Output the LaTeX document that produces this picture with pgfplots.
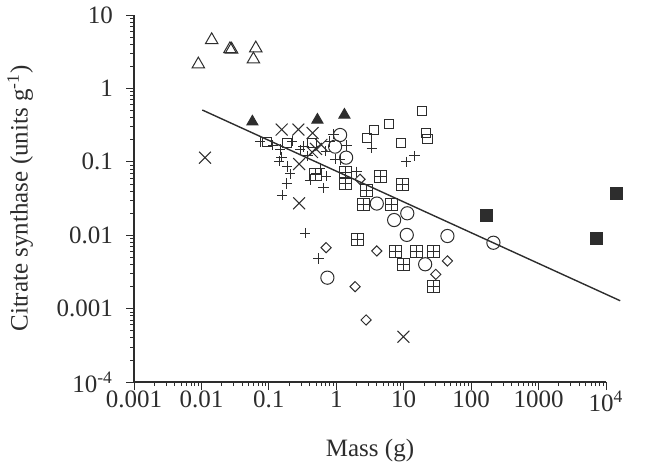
\documentclass[border=0pt]{standalone}
\usepackage{fontspec}
\setmainfont{Liberation Serif}
\usepackage{pgfplots}
\pgfplotsset{compat=1.18}
\definecolor{ink}{RGB}{45,45,45}

% square with a cross inside
\pgfdeclareplotmark{boxplus}{%
  \pgfpathrectangle{\pgfqpoint{-\pgfplotmarksize}{-\pgfplotmarksize}}{\pgfqpoint{2\pgfplotmarksize}{2\pgfplotmarksize}}%
  \pgfpathmoveto{\pgfqpoint{0pt}{-\pgfplotmarksize}}\pgfpathlineto{\pgfqpoint{0pt}{\pgfplotmarksize}}%
  \pgfpathmoveto{\pgfqpoint{-\pgfplotmarksize}{0pt}}\pgfpathlineto{\pgfqpoint{\pgfplotmarksize}{0pt}}%
  \pgfusepathqstroke}

\begin{document}
\begin{tikzpicture}
\path[use as bounding box] (-67pt,-43pt) rectangle (256.5pt,191pt);
\begin{axis}[
    at={(0,0)}, anchor=south west,
    scale only axis, width=236pt, height=183.5pt,
    xmode=log, ymode=log,
    xmin=0.001, xmax=10000, ymin=0.0001, ymax=10,
    axis x line*=bottom, axis y line*=left,
    axis line style={-, ink, line width=0.6pt},
    clip=false,
    xtick={0.001,0.01,0.1,1,10,100,1000,10000},
    xticklabels={0.001,0.01,0.1,1,10,100,1000,10\textsuperscript{4}},
    ytick={0.0001,0.001,0.01,0.1,1,10},
    yticklabels={10\textsuperscript{-4},0.001,0.01,0.1,1,10},
    tick align=outside,
    major tick length=4pt, minor tick length=2pt,
    tick style={ink, line width=0.4pt},
    ticklabel style={font=\fontsize{12.5}{14}\selectfont, text=ink},
    xticklabel style={yshift=3pt},
    yticklabel style={xshift=-3pt},
    label style={font=\fontsize{12.5}{14}\selectfont, text=ink},
    xlabel={Mass (g)},
    xlabel style={at={(axis description cs:0.5,-0.204)}, anchor=base},
    ylabel={Citrate synthase (units g\textsuperscript{-1})},
    ylabel style={at={(axis description cs:-0.199,0.5)}, anchor=south},
    every axis plot/.append style={line width=0.5pt, ink},
]

% regression line
\addplot[no marks, line width=0.7pt] coordinates {(0.0103,0.508) (16250,0.00128)};

% open triangles
\addplot[only marks, mark=triangle, mark size=3.6pt] coordinates {
(0.0142,4.56) (0.009,2.13) (0.0265,3.44) (0.028,3.40) (0.064,3.52) (0.059,2.49)};

% filled triangles
\addplot[only marks, mark=triangle*, mark size=3.2pt, fill=ink] coordinates {
(0.057,0.351) (0.525,0.372) (1.32,0.435)};

% crosses
\addplot[only marks, mark=x, mark size=4.2pt] coordinates {
(0.0113,0.114) (0.155,0.275) (0.274,0.275) (0.445,0.247) (0.281,0.0933)
(0.281,0.0272) (9.9,0.000414) (0.437,0.136) (0.5,0.15) (0.6,0.17)};

% plus
\addplot[only marks, mark=+, mark size=2.6pt] coordinates {
(0.074,0.188) (0.155,0.116) (0.142,0.1025) (0.186,0.0867) (0.207,0.0683)
(0.185,0.0506) (0.157,0.0353) (0.344,0.0107) (0.542,0.00484) (0.906,0.239)
(0.96,0.109) (1.43,0.167) (3.37,0.154) (10.9,0.100) (14.4,0.120)
(0.644,0.044) (2.01,0.0733) (0.325,0.161) (0.575,0.0815) (1.14,0.108)
(0.147,0.148) (0.221,0.192) (0.408,0.0565) (0.706,0.064) (0.115,0.169)
(0.29,0.145) (0.38,0.12) (0.7,0.14) (0.5,0.07) (0.8,0.19)};

% open squares
\addplot[only marks, mark=square, mark size=2.3pt] coordinates {
(0.093,0.186) (0.185,0.180) (2.84,0.209) (3.64,0.271) (6.07,0.327)
(18.6,0.497) (9.06,0.179) (21.5,0.247) (22.5,0.203) (0.434,0.179)};

% squares with cross
\addplot[only marks, mark=boxplus, mark size=3pt] coordinates {
(1.35,0.0726) (1.35,0.0499) (4.47,0.0627) (9.7,0.0491) (2.52,0.0258)
(6.65,0.0266) (2.06,0.0088) (7.59,0.006) (15.3,0.006) (27.6,0.006)
(10.0,0.00396) (27.7,0.002) (2.77,0.0413) (0.484,0.068)};

% open circles
\addplot[only marks, mark=o, mark size=3.3pt] coordinates {
(1.14,0.232) (0.96,0.161) (1.40,0.114) (3.99,0.027) (11.3,0.0199)
(7.21,0.0161) (11.1,0.0101) (44.5,0.00975) (20.8,0.00402) (0.738,0.00264)
(214,0.0079)};

% diamonds
\addplot[only marks, mark=square, mark size=1.8pt, mark options={rotate=45}] coordinates {
(0.706,0.00676) (3.99,0.0061) (44.5,0.00446) (29.9,0.00293) (1.90,0.00199)
(2.77,0.0007) (2.25,0.0578)};

% filled squares
\addplot[only marks, mark=square*, mark size=3pt, fill=ink] coordinates {
(171,0.0188) (7330,0.0091) (14500,0.0373)};

\end{axis}
\end{tikzpicture}
\end{document}
